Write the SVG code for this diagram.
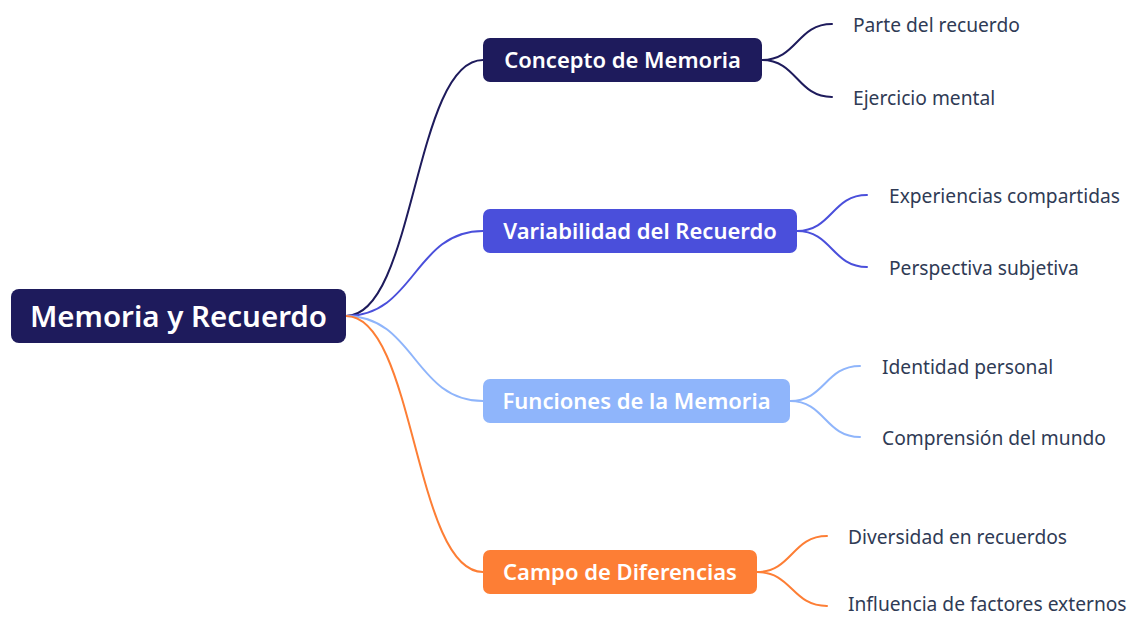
<svg xmlns="http://www.w3.org/2000/svg" width="1131" height="617" viewBox="0 0 1131 617">
<style>
.c{fill:none;stroke-width:2;stroke-linecap:round}
.nt{font-family:"Noto Sans","Open Sans",sans-serif;font-weight:600;fill:#fff;text-anchor:middle;font-size:22px}
.rt{font-family:"Noto Sans","Open Sans",sans-serif;font-weight:600;fill:#fff;text-anchor:middle;font-size:29.5px}
.lt{font-family:"Noto Sans","Open Sans",sans-serif;fill:#2f3b55;font-size:19.2px}
</style>
<rect width="1131" height="617" fill="#fff"/>
<g id="connectors">
<path class="c" stroke="#1e1b5c" d="M346,316 C415,316 414,60 483,60"/>
<path class="c" stroke="#4a4fdb" d="M346,316 C415,316 414,231 483,231"/>
<path class="c" stroke="#8fb5fb" d="M346,316 C415,316 414,401 483,401"/>
<path class="c" stroke="#fd7e35" d="M346,316 C415,316 414,572 483,572"/>
<path class="c" stroke="#1e1b5c" d="M762,60 C797,60 797,24 832,24 M762,60 C797,60 797,97 832,97"/>
<path class="c" stroke="#4a4fdb" d="M797,231 C832,231 832,195 867,195 M797,231 C832,231 832,267 867,267"/>
<path class="c" stroke="#8fb5fb" d="M790,401 C825,401 825,366 860,366 M790,401 C825,401 825,437 860,437"/>
<path class="c" stroke="#fd7e35" d="M757,572 C792,572 792,536 827,536 M757,572 C792,572 792,606 827,606"/>
</g>
<g id="root">
<rect x="11" y="289" width="335" height="54" rx="8" fill="#1e1b5c"/>
<text class="rt" x="178.5" y="327">Memoria y Recuerdo</text>
</g>
<g id="n1">
<rect x="483" y="38" width="279" height="44" rx="7" fill="#1e1b5c"/>
<text class="nt" x="622.5" y="68">Concepto de Memoria</text>
</g>
<g id="n2">
<rect x="483" y="209" width="314" height="44" rx="7" fill="#4a4fdb"/>
<text class="nt" x="640" y="239">Variabilidad del Recuerdo</text>
</g>
<g id="n3">
<rect x="483" y="379" width="307" height="44" rx="7" fill="#8fb5fb"/>
<text class="nt" x="636.5" y="409">Funciones de la Memoria</text>
</g>
<g id="n4">
<rect x="483" y="550" width="274" height="44" rx="7" fill="#fd7e35"/>
<text class="nt" x="620" y="580">Campo de Diferencias</text>
</g>
<g id="l1"><text class="lt" x="853" y="32">Parte del recuerdo</text></g>
<g id="l2"><text class="lt" x="853" y="105">Ejercicio mental</text></g>
<g id="l3"><text class="lt" x="889" y="203">Experiencias compartidas</text></g>
<g id="l4"><text class="lt" x="889" y="275">Perspectiva subjetiva</text></g>
<g id="l5"><text class="lt" x="882" y="374">Identidad personal</text></g>
<g id="l6"><text class="lt" x="882" y="445">Comprensión del mundo</text></g>
<g id="l7"><text class="lt" x="848" y="544">Diversidad en recuerdos</text></g>
<g id="l8"><text class="lt" x="848" y="611">Influencia de factores externos</text></g>
</svg>
